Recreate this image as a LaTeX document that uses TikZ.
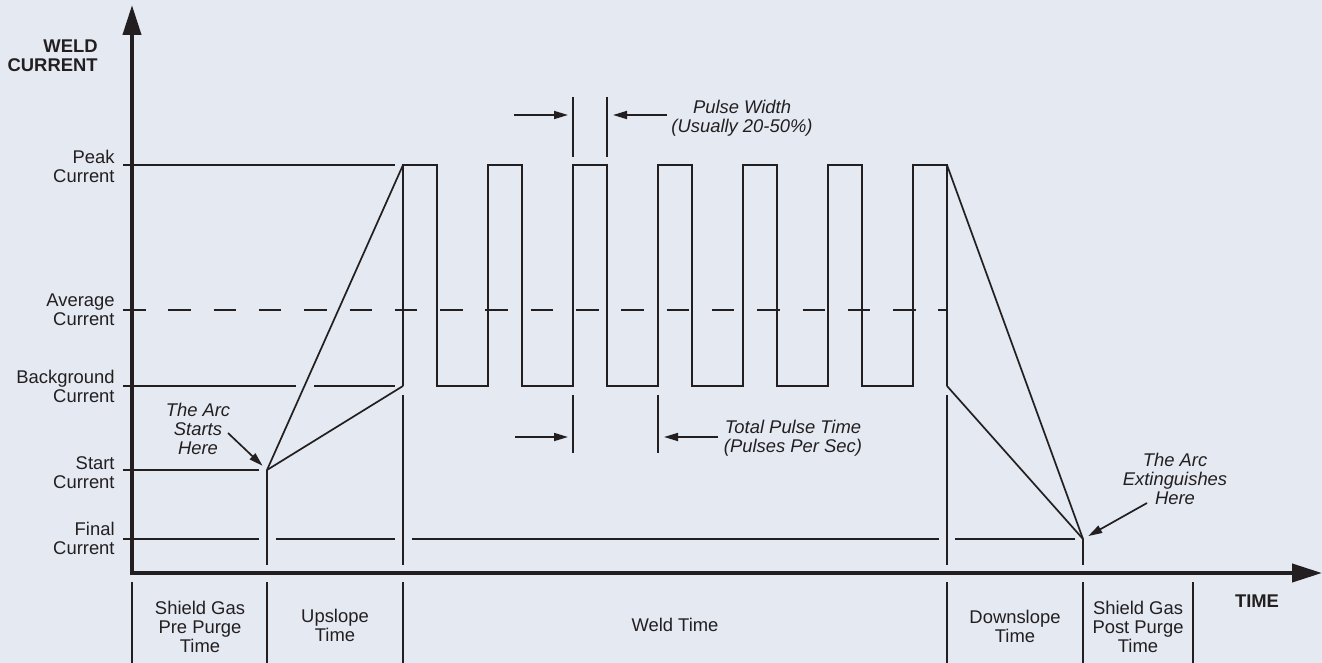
\documentclass[tikz,border=0pt]{standalone}
\usepackage{fontspec}
\setmainfont{Liberation Sans}
\usepackage{tikz}
\usetikzlibrary{positioning, arrows.meta, calc}
\definecolor{weld-bg}{HTML}{E4E9F2}
\definecolor{weld-ink}{HTML}{231F20}

\begin{document}
\begin{tikzpicture}[x=0.5pt, y=-0.5pt,
    ink/.style={draw=weld-ink, line width=0.85pt},
    axis/.style={draw=weld-ink, line width=2pt, -{Triangle[length=15pt, width=9pt]}},
    dim/.style={ink, -{Triangle[length=7pt, width=4pt]}},
    lvl/.style={anchor=east, align=right, inner sep=0pt, text=weld-ink,
                font=\fontsize{9.2}{9.5}\selectfont},
    head/.style={lvl, font=\fontsize{9.2}{9.5}\selectfont\bfseries},
    note/.style={align=center, inner sep=0pt, text=weld-ink,
                 font=\fontsize{9.2}{9.5}\selectfont\itshape},
    span/.style={align=center, inner sep=0pt, text=weld-ink,
                 font=\fontsize{9.2}{9.5}\selectfont},
]
    \fill[weld-bg] (0,0) rectangle (1322,663);
    \useasboundingbox (0,0) rectangle (1322,663);

    % axes
    \coordinate (org) at (132,573);
    \coordinate (ytip) at (132,5);
    \coordinate (xtip) at (1322,573);
    \draw[axis] ($(org)+(0,2)$) -- (ytip);
    \draw[axis] ($(org)+(-2,0)$) -- (xtip);
    \node[head] (ylab) at (98,56) {WELD\\CURRENT};
    \node[head, anchor=center] (xlab) at (1257,601) {TIME};

    % current levels
    \node[lvl] (peak) at (115,166) {Peak\\Current};
    \node[lvl] (avg)  at (115,310) {Average\\Current};
    \node[lvl] (bg)   at (115,386) {Background\\Current};
    \node[lvl] (strt) at (115,473) {Start\\Current};
    \node[lvl] (fin)  at (115,538) {Final\\Current};

    \draw[ink] (123,165) -- (395,165);
    \draw[ink, dash pattern=on 11.25pt off 11.4pt] (123,310) -- (947,310);
    \draw[ink] (123,386) -- (296,386) (314,386) -- (395,386);
    \draw[ink] (123,470) -- (259,470);
    \draw[ink] (123,539) -- (259,539) (276,539) -- (395,539)
               (412,539) -- (939,539) (955,539) -- (1075,539);

    % weld current waveform
    \coordinate (s0) at (267,470);
    \coordinate (e0) at (1083,539);
    \draw[ink] (s0) -- (403,165);
    \draw[ink] (s0) -- (403,386);
    \draw[ink] (403,386) \foreach \i in {0,...,5}{ -- ++(0,-221) -- ++(34,0) -- ++(0,221) -- ++(51,0)}
               -- ++(0,-221) -- ++(34,0) -- ++(0,221);
    \draw[ink] (947,165) -- (e0);
    \draw[ink] (947,386) -- (e0);

    % time dividers
    \draw[ink] (s0) -- (267,565);
    \draw[ink] (403,395) -- (403,565);
    \draw[ink] (947,395) -- (947,565);
    \draw[ink] (e0) -- (1083,565);
    \foreach \x in {132,267,403,947,1083,1193}
        \draw[ink] (\x,582) -- (\x,663);

    \node[span] (pre)  at (200,627)  {Shield Gas\\Pre Purge\\Time};
    \node[span] (up)   at (335,625)  {Upslope\\Time};
    \node[span] (weld) at (675,625)  {Weld Time};
    \node[span] (down) at (1015,626) {Downslope\\Time};
    \node[span] (post) at (1138,627) {Shield Gas\\Post Purge\\Time};

    % pulse width
    \coordinate (pwA) at (573,115);
    \coordinate (pwB) at (607,115);
    \draw[ink] (573,97) -- (573,157) (607,97) -- (607,157);
    \draw[dim] ($(pwA)+(-59,0)$) -- ($(pwA)+(-5,0)$);
    \draw[dim] ($(pwB)+(60,0)$) -- ($(pwB)+(6,0)$);
    \node[note] (pw) at (742,118) {Pulse Width\\(Usually 20-50\%)};

    % total pulse time
    \coordinate (tpA) at (573,437);
    \coordinate (tpB) at (658,437);
    \draw[ink] (573,395) -- (573,453) (658,395) -- (658,453);
    \draw[dim] ($(tpA)+(-58,0)$) -- ($(tpA)+(-5,0)$);
    \draw[dim] ($(tpB)+(60,0)$) -- ($(tpB)+(6,0)$);
    \node[note] (tp) at (793,438) {Total Pulse Time\\(Pulses Per Sec)};

    % arc start / end
    \node[note] (arcs) at (198,429) {The Arc\\Starts\\Here};
    \coordinate (arcs-t) at (228,433);
    \draw[dim, shorten >=3pt] (arcs-t) -- (s0);
    \node[note] (arce) at (1175,479) {The Arc\\Extinguishes\\Here};
    \coordinate (arce-t) at (1147,503);
    \draw[dim, shorten >=3pt] (arce-t) -- (e0);
\end{tikzpicture}
\end{document}
